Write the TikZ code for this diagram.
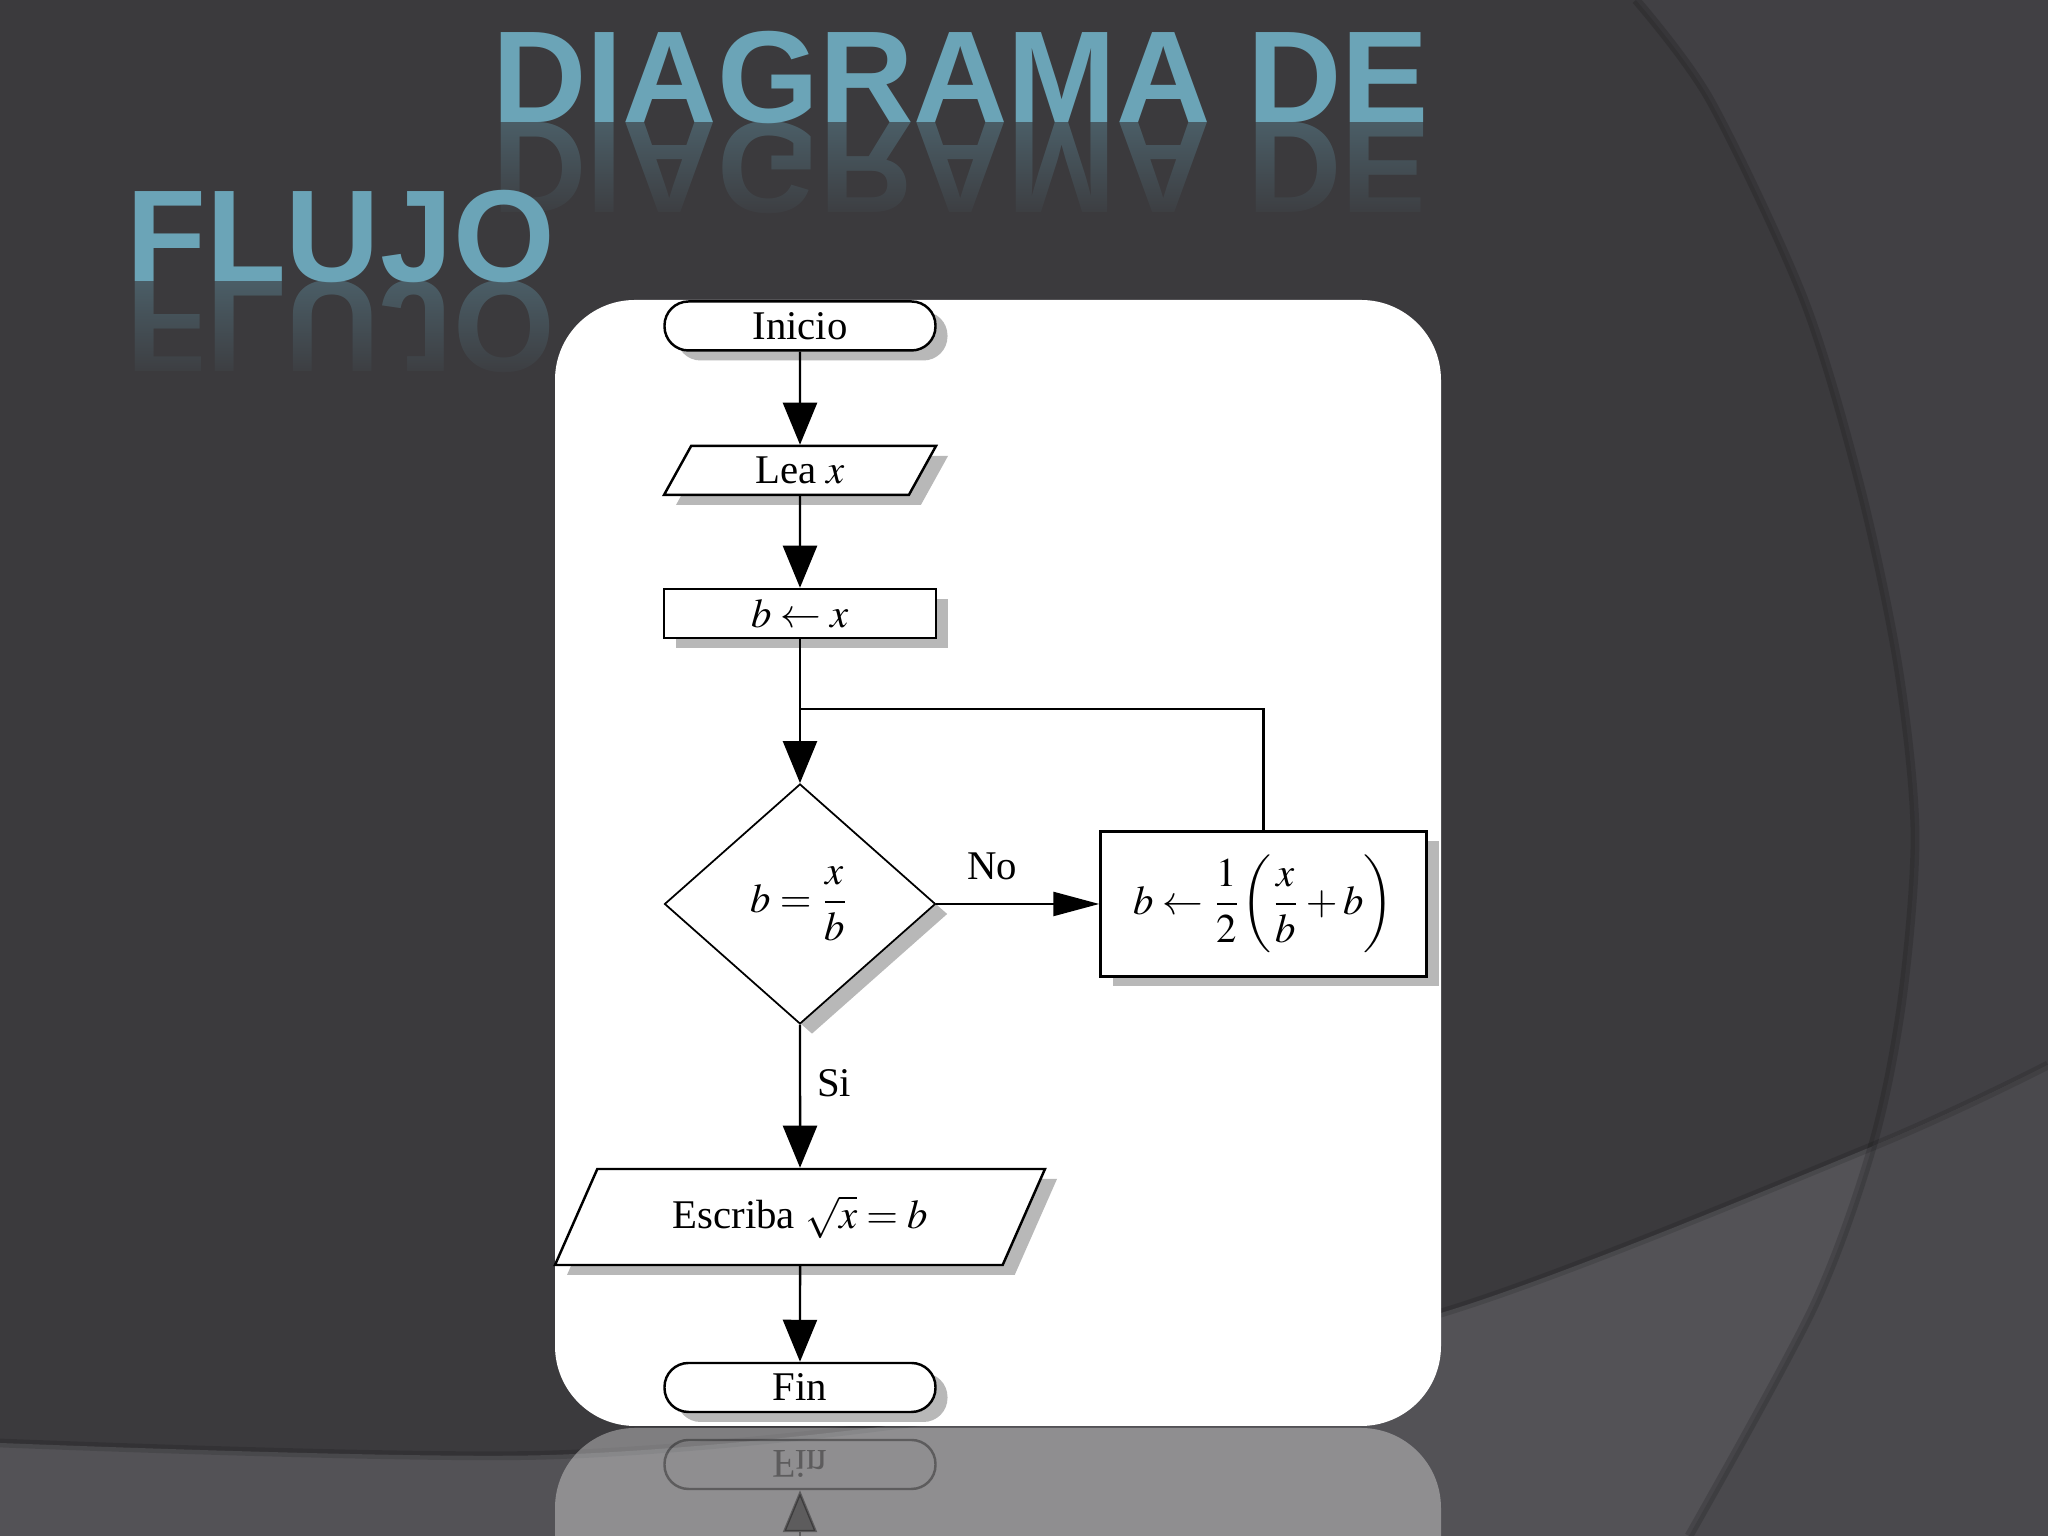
\documentclass[tikz,border=0pt]{standalone}
\usepackage{amsmath}
\usepackage{mathptmx}
\usepackage{fontspec}
\setmainfont{Liberation Serif}
\setsansfont{Liberation Sans}
\usetikzlibrary{shapes.geometric, arrows.meta, shadows, fadings}

\definecolor{fondo}{HTML}{3B3A3D}
\definecolor{fondoder}{HTML}{414044}
\definecolor{piso}{HTML}{535256}
\definecolor{pisoder}{HTML}{4A494D}
\definecolor{titulo}{HTML}{6BA4B7}

\tikzfading[name=tapa, top color=transparent!100, bottom color=transparent!0]

\tikzset{
  sombra/.style={drop shadow={shadow xshift=0.12cm, shadow yshift=-0.10cm, fill=black!28, opacity=1}},
  terminal/.style={draw, fill=white, rectangle, rounded corners=0.24cm, minimum width=2.71cm, minimum height=0.49cm, inner sep=0pt},
  proceso/.style={draw, fill=white, rectangle, minimum height=0.49cm, inner sep=0pt},
  datos/.style={draw, fill=white, trapezium, trapezium left angle=45, trapezium right angle=135, trapezium stretches body, inner sep=0pt},
  decision/.style={draw, fill=white, diamond, line width=0.5pt, inner sep=0pt, minimum width=2.71cm, minimum height=2.40cm},
  flecha/.style={-{Triangle[length=0.42cm, width=0.34cm]}},
  flechah/.style={-{Triangle[length=0.46cm, width=0.24cm]}},
  letrero/.style={font=\sffamily\bfseries\fontsize{37.2pt}{40pt}\selectfont, text=titulo, inner sep=0pt, anchor=base west},
  reflejo/.style={letrero, yscale=-1, opacity=0.35}
}

\begin{document}
\begin{tikzpicture}[font=\fontsize{11.6pt}{14pt}\selectfont, line width=0.7pt]
    \useasboundingbox (0,0) rectangle (20.48,15.36);
    \clip (0,0) rectangle (20.48,15.36);
    \fill[fondo] (0,0) rectangle (20.48,15.36);
    \fill[fondoder] plot[smooth] coordinates {(16.36,15.36) (17.10,14.36) (18.04,12.36) (18.60,10.50) (18.98,8.70) (19.15,7.03) (19.02,5.36) (18.73,3.92) (18.13,2.28) (16.89,0)} -- (20.48,0) -- (20.48,15.36) -- cycle;
    \fill[piso] (0,0) -- plot[smooth] coordinates {(0,0.93) (5.5,0.81) (10,1.26) (14.41,2.23) (18.71,3.89) (20.48,4.71)} -- (20.48,0) -- cycle;
    \begin{scope}
        \clip plot[smooth] coordinates {(16.36,15.36) (17.10,14.36) (18.04,12.36) (18.60,10.50) (18.98,8.70) (19.15,7.03) (19.02,5.36) (18.73,3.92) (18.13,2.28) (16.89,0)} -- (20.48,0) -- (20.48,15.36) -- cycle;
        \fill[pisoder] (0,0) -- plot[smooth] coordinates {(0,0.93) (5.5,0.81) (10,1.26) (14.41,2.23) (18.71,3.89) (20.48,4.71)} -- (20.48,0) -- cycle;
    \end{scope}
    \draw[black, opacity=0.15, line width=2.5pt] plot[smooth] coordinates {(16.36,15.36) (17.10,14.36) (18.04,12.36) (18.60,10.50) (18.98,8.70) (19.15,7.03) (19.02,5.36) (18.73,3.92) (18.13,2.28) (16.89,0)};
    \draw[black, opacity=0.12, line width=2.5pt] plot[smooth] coordinates {(0,0.93) (5.5,0.81) (10,1.26) (14.41,2.23) (18.71,3.89) (20.48,4.71)};

    \node[letrero] (tit1) at (4.91,14.13) {DIAGRAMA DE};
    \node[reflejo] (tit1refl) at (4.91,14.13) {DIAGRAMA DE};
    \fill[fondo, path fading=tapa] (4.8,14.14) rectangle (14.4,13.10);
    \fill[fondo] (4.8,13.12) rectangle (14.4,13.0);
    \node[letrero] (tit2) at (1.25,12.54) {FLUJO};
    \node[reflejo] (tit2refl) at (1.25,12.54) {FLUJO};
    \fill[fondo, path fading=tapa] (1.1,12.55) rectangle (5.54,11.51);
    \fill[fondo] (1.1,11.53) rectangle (5.54,11.40);

    \fill[white, opacity=0.35, rounded corners=0.8cm] (5.55,-1) rectangle (14.41,1.08);
    \begin{scope}[opacity=0.35, yshift=2.2cm, yscale=-1]
        \node[draw, rounded corners=0.24cm, minimum width=2.71cm, minimum height=0.49cm, inner sep=0pt, yscale=-1] (finrefl) at (8.00,1.485) {Fin};
        \coordinate (escrefl) at (8.00,2.71);
        \draw[flecha] (escrefl) -- (finrefl);
    \end{scope}
    \fill[white, rounded corners=0.8cm] (5.55,1.10) rectangle (14.41,12.36);

    \node[terminal, sombra] (inicio) at (8.00,12.10) {Inicio};
    \node[datos, sombra, minimum width=2.72cm, minimum height=0.49cm] (lea) at (8.00,10.655) {Lea $x$};
    \node[proceso, sombra, minimum width=2.72cm] (bx) at (8.00,9.225) {$b\leftarrow x$};
    \coordinate (union) at (8.00,8.27);
    \node[decision, sombra] (dec) at (8.00,6.32) {$b=\dfrac{x}{b}$};
    \node[proceso, sombra, minimum width=3.26cm, minimum height=1.45cm] (calc) at (12.635,6.32) {$b\leftarrow\dfrac{1}{2}\biggl(\dfrac{x}{b}+b\biggr)$};
    \node[datos, sombra, minimum width=4.90cm, minimum height=0.96cm] (escriba) at (8.00,3.19) {Escriba $\sqrt{x}=b$};
    \node[terminal, sombra] (fin) at (8.00,1.485) {Fin};
    \node (etqno) at (9.92,6.70) {No};
    \node (etqsi) at (8.34,4.53) {Si};

    \draw[flecha] (inicio) -- (lea);
    \draw[flecha] (lea) -- (bx);
    \draw[flecha] (bx) -- (dec);
    \draw (calc.north) |- (union);
    \draw[flechah] (dec) -- (calc);
    \draw[flecha] (dec) -- (escriba);
    \draw[flecha] (escriba) -- (fin);
\end{tikzpicture}
\end{document}
